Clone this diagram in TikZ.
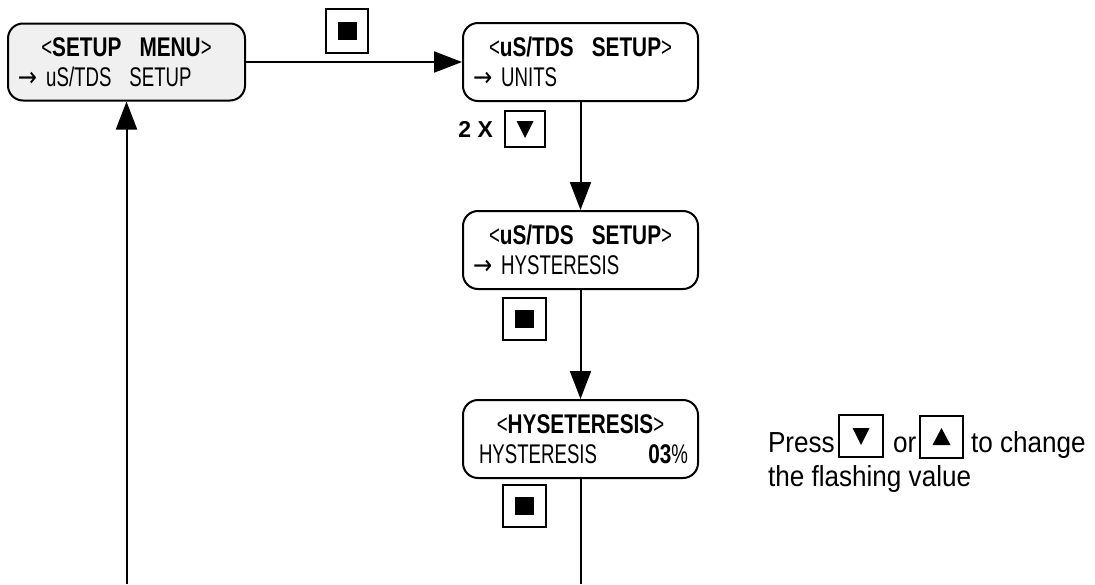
\documentclass[tikz,border=0pt]{standalone}
\usepackage{fontspec}
\setmainfont{Liberation Sans}
\newfontfamily\lcdfont{Liberation Sans}[FakeStretch=0.69]
\newfontfamily\lcdboldfont{Liberation Sans}[FakeStretch=0.77]
\newfontfamily\notefont{Liberation Sans}[FakeStretch=0.9]
\newfontfamily\arrowfont{DejaVu Sans}[FakeStretch=0.85]
\usepackage{tikz}
\usetikzlibrary{positioning}
\usetikzlibrary{arrows.meta}
\newcommand{\lcdb}[1]{{\lcdboldfont\bfseries #1}}
\newcommand{\lcdarrow}{{\arrowfont →}}

\tikzset{
  lcd/.style={draw=black, line width=1pt, rounded corners=7.5pt, minimum width=117.5pt, minimum height=39pt,
    text width=107.5pt, inner xsep=5pt, inner ysep=0pt, align=left, font=\lcdfont\fontsize{13.5}{15}\selectfont},
  key/.style={draw=black, line width=1pt, inner sep=0pt, minimum width=21.5pt, minimum height=21pt},
  stopkey/.style={key, path picture={\fill ([xshift=-4.75pt,yshift=-4.5pt]path picture bounding box.center) rectangle ([xshift=4.75pt,yshift=4.5pt]path picture bounding box.center);}},
  downkey/.style={key, path picture={\fill ([xshift=-4.25pt,yshift=4pt]path picture bounding box.center) -- ([xshift=4.25pt,yshift=4pt]path picture bounding box.center) -- ([yshift=-4.5pt]path picture bounding box.center) -- cycle;}},
  upkey/.style={key, path picture={\fill ([xshift=-4.5pt,yshift=-4pt]path picture bounding box.center) -- ([xshift=4.5pt,yshift=-4pt]path picture bounding box.center) -- ([yshift=4.5pt]path picture bounding box.center) -- cycle;}},
  note/.style={font=\notefont\fontsize{14.5}{16}\selectfont, inner sep=0pt, anchor=base west}
}

\begin{document}
\begin{tikzpicture}[x=0.5pt, y=-0.5pt, line width=1pt]
		\tikzset{>={Triangle[length=14pt,width=10.5pt]}}
		\useasboundingbox (0,0) rectangle (1095,584);

		\node[lcd, fill=black!6, minimum width=118.5pt, text width=108.5pt, minimum height=38.5pt] (menu) at (126.5,62) {\makebox[\hsize]{<\lcdb{SETUP~~MENU}>}\\ \lcdarrow~uS/TDS~~SETUP};
		\node[lcd] (units) at (580.5,62) {\makebox[\hsize]{<\lcdb{uS/TDS~~SETUP}>}\\ \lcdarrow~UNITS};
		\node[lcd] (hystsel) at (580.5,250) {\makebox[\hsize]{<\lcdb{uS/TDS~~SETUP}>}\\ \lcdarrow~HYSTERESIS};
		\node[lcd] (hystval) at (580.5,439) {\makebox[\hsize]{<\lcdb{HYSETERESIS}>}\\ \hspace*{3pt}HYSTERESIS\hfill\lcdb{03}\%\hspace*{3pt}};

		% keys
		\node[stopkey, minimum width=21pt, minimum height=22pt] (k0) at (347,31) {};
		\node[downkey, minimum width=20pt, minimum height=18pt] (k1) at (525,129) {};
		\node[left=5pt of k1, inner sep=0pt, font=\bfseries\fontsize{11.5}{11.5}\selectfont] (twice) {2~X};
		\node[stopkey] (k2) at (524.5,319) {};
		\node[stopkey] (k3) at (524.5,506) {};

		\coordinate (loopleft) at (126.5,584);
		\coordinate (loopright) at (580.5,584);
		\path (menu) edge[->, color=black] (units);
		\path (units) edge[->, color=black] (hystsel);
		\path (hystsel) edge[->, color=black] (hystval);
		\path (hystval) edge[color=black] (loopright);
		\path (loopleft) edge[->, color=black] (menu);

		% hint
		\node[note] (press) at (767,452) {Press};
		\node[downkey, minimum width=22pt] (kdn) at (861,436) {};
		\node[note] (orword) at (892,452) {or};
		\node[upkey] (kup) at (941.5,437) {};
		\node[note] (tochange) at (970,452) {to change};
		\node[note] (flashing) at (767,486) {the flashing value};
	\end{tikzpicture}
\end{document}
